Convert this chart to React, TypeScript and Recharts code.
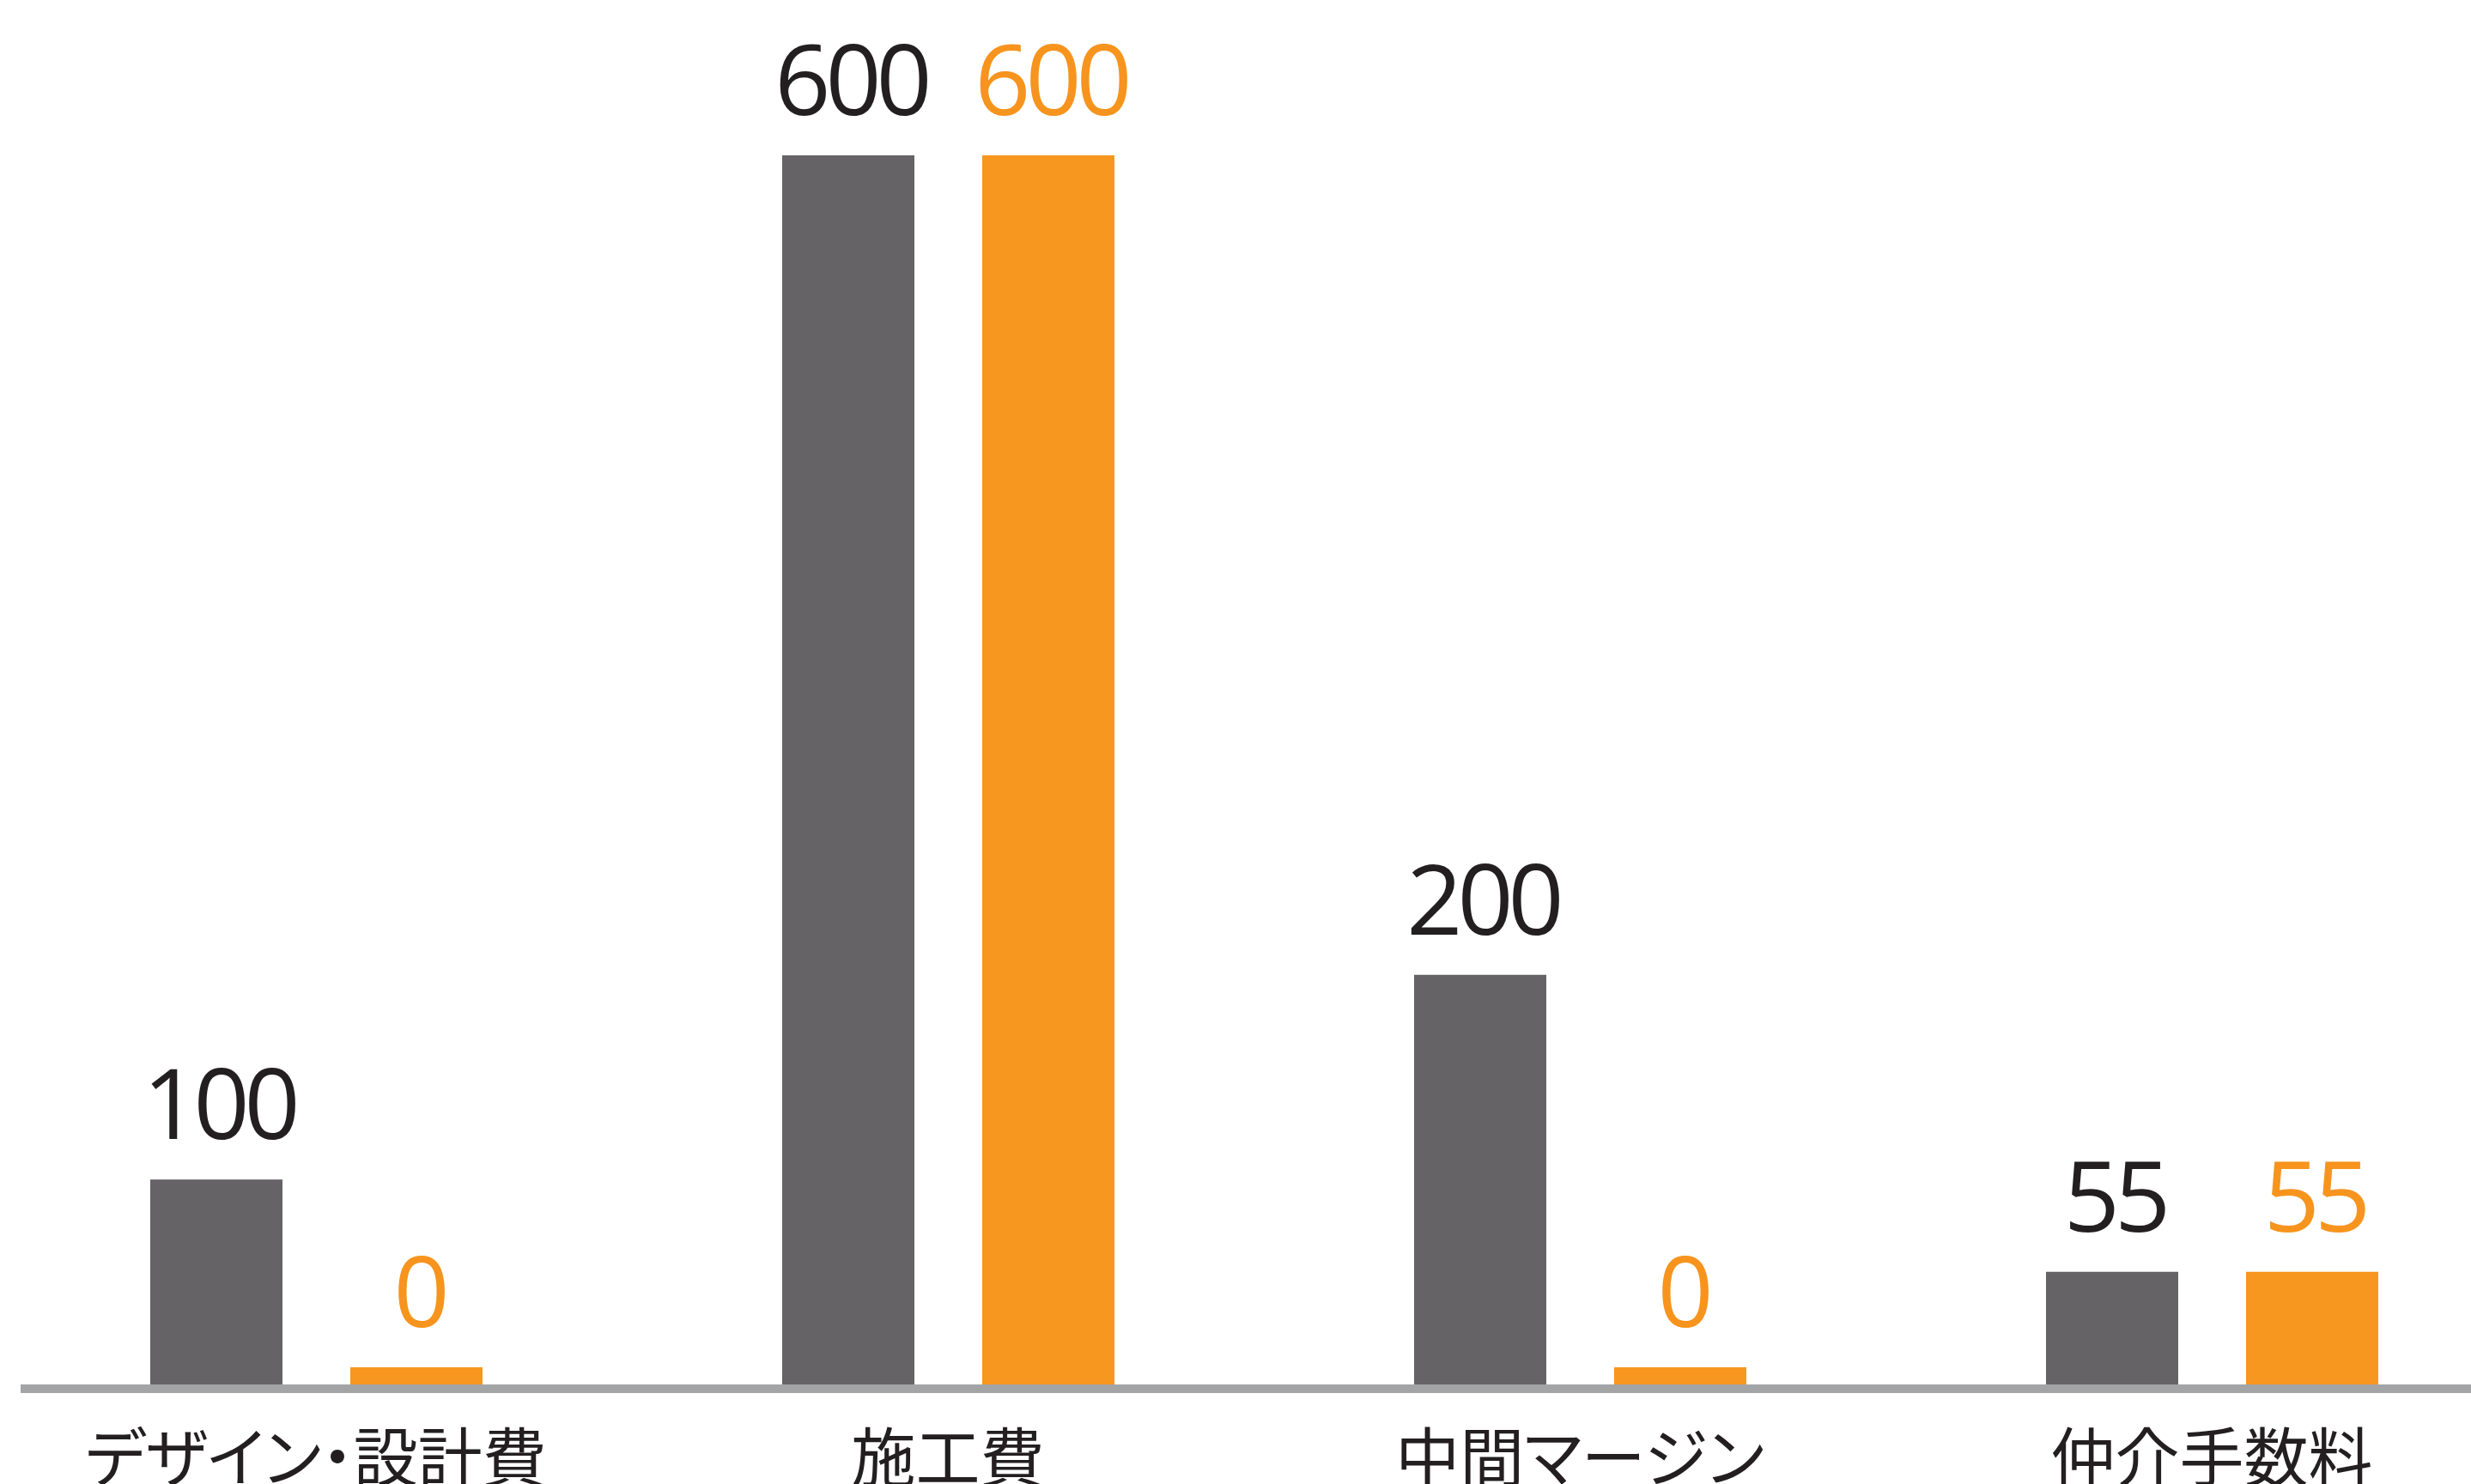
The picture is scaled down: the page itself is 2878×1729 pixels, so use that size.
import React from 'react';
import { BarChart, Bar, XAxis, YAxis, LabelList } from 'recharts';

const categories = ['デザイン・設計費', '施工費', '中間マージン', '仲介手数料'];
const grayValues = [100, 600, 200, 55];
const orangeValues = [0, 600, 0, 55];

const GRAY = '#656366';
const ORANGE = '#f7971f';
const TEXT_DARK = '#231f20';
const TEXT_ORANGE = '#f7941d';
const AXIS = '#a3a4a6';

const data = categories.map((c, i) => ({ name: c, gray: grayValues[i], orange: orangeValues[i] }));

const makeLabel = (color: string) => (props: any) => {
  const { x, y, width, value } = props;
  return (
    <text
      x={Number(x) + Number(width) / 2 + 3}
      y={Number(y) - 47}
      textAnchor="middle"
      fontFamily="'Open Sans', sans-serif"
      fontSize={114}
      letterSpacing={-6}
      fill={color}
    >
      {value}
    </text>
  );
};

const CategoryTick = (props: any) => {
  const { x, y, payload } = props;
  return (
    <text
      x={x}
      y={y}
      dy={113}
      textAnchor="middle"
      fontFamily="'Noto Sans CJK JP', sans-serif"
      fontSize={75}
      fill={TEXT_DARK}
      style={{ fontFeatureSettings: '"palt"' }}
    >
      {payload.value}
    </text>
  );
};

export default function App() {
  return (
    <div style={{ position: 'absolute', left: 0, top: 0, width: 2878, height: 1729, overflow: 'hidden', background: '#fff' }}>
      <BarChart
        width={2944}
        height={1800}
        data={data}
        margin={{ top: 181, right: 0, bottom: 0, left: 24 }}
        barSize={154}
        barGap={79}
      >
        <YAxis hide domain={[0, 600]} width={0} />
        <XAxis
          dataKey="name"
          height={187}
          padding={{ left: -24, right: 0 }}
          tickLine={false}
          tickSize={0}
          tickMargin={0}
          axisLine={{ stroke: AXIS, strokeWidth: 10, transform: 'translate(0,5)' } as any}
          tick={<CategoryTick />}
          interval={0}
        />
        <Bar dataKey="gray" fill={GRAY} minPointSize={20} isAnimationActive={false}>
          <LabelList dataKey="gray" content={makeLabel(TEXT_DARK)} />
        </Bar>
        <Bar dataKey="orange" fill={ORANGE} minPointSize={20} isAnimationActive={false}>
          <LabelList dataKey="orange" content={makeLabel(TEXT_ORANGE)} />
        </Bar>
      </BarChart>
    </div>
  );
}
